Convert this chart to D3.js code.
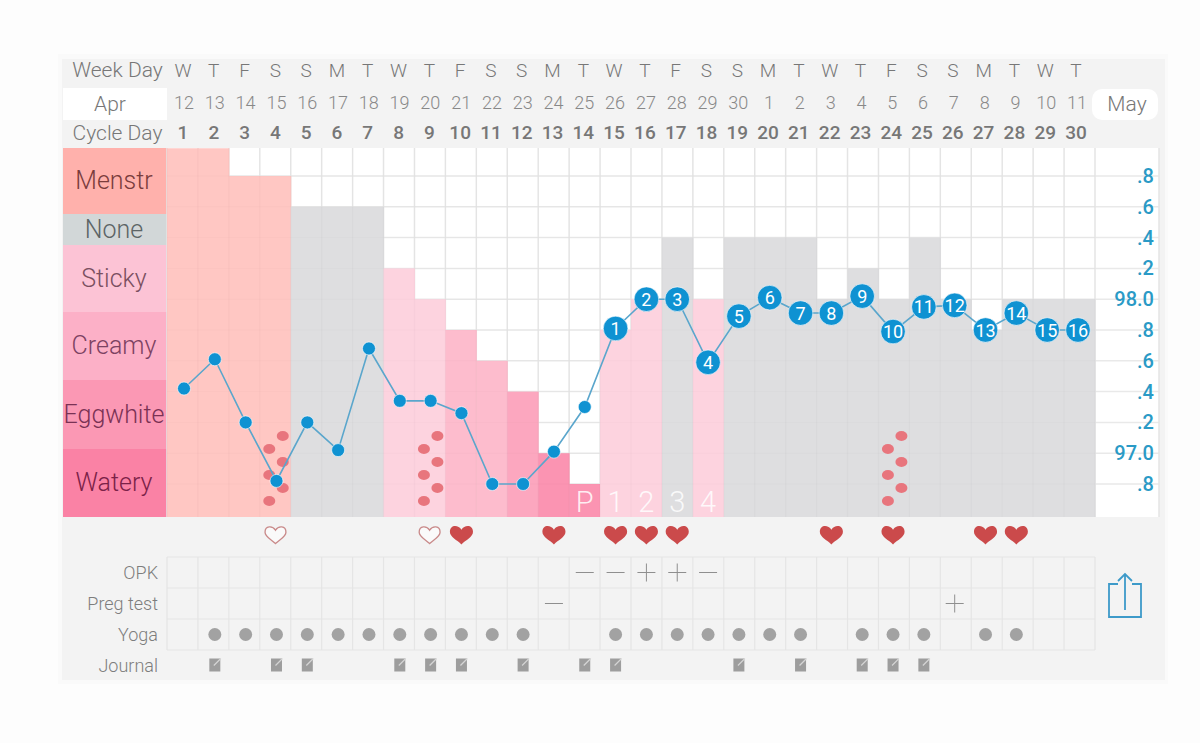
<!DOCTYPE html>
<html>
<head>
<meta charset="utf-8">
<title>Cycle chart</title>
<script src="https://cdn.jsdelivr.net/npm/d3@7"></script>
<style>
  html, body { margin: 0; padding: 0; background: #fdfdfd; }
  text { font-family: Roboto, "Liberation Sans", Arial, sans-serif; font-weight: 300; }
</style>
</head>
<body>
<svg id="chart" width="1200" height="743"></svg>
<script>
// data
const weekDays = ['W','T','F','S','S','M','T','W','T','F','S','S','M','T','W','T','F','S','S','M','T','W','T','F','S','S','M','T','W','T'];
const dates = [12,13,14,15,16,17,18,19,20,21,22,23,24,25,26,27,28,29,30,1,2,3,4,5,6,7,8,9,10,11];
const cycleDays = d3.range(1, 31);

const temps = [97.42,97.61,97.2,96.82,97.2,97.02,97.68,97.34,97.34,97.26,96.8,96.8,97.01,97.3,97.81,98.0,98.0,97.59,97.89,98.01,97.91,97.91,98.02,97.79,97.95,97.96,97.8,97.91,97.8,97.8];
const firstNumberedDay = 15;

const fluidNames = ['Menstr','None','Sticky','Creamy','Eggwhite','Watery'];
const fluidBlockEdges = [148,214,245,312,380,449,517];
const fluidBlockColors = ['#ffb1ac','#d2d7d8','#fcc3d5','#fcb0c7','#fb98b4','#fa82a5'];
const fluidTextColors = ['#7a3c3c','#5c6466','#7a4f60','#7c4262','#7a3254','#7b2148'];
const fluidColors = {Menstr:'#ffc7c3',None:'#dedee0',Sticky:'#fdd3df',Creamy:'#fdbccd',Eggwhite:'#fca7bf',Watery:'#fb94b2'};
const dayFluid = ['Menstr','Menstr','Menstr','Menstr','None','None','None','Sticky','Sticky','Creamy','Creamy','Eggwhite','Watery','Watery','Sticky','Sticky','None','Sticky','None','None','None','None','None','None','None','None','None','None','None','None'];
// top of each day's bar, on the temperature grid
const dayFluidTop = [98.98,98.98,98.8,98.8,98.6,98.6,98.6,98.2,98.0,97.8,97.6,97.4,97.0,96.8,97.8,98.0,98.4,98.0,98.4,98.4,98.4,98.0,98.2,98.0,98.4,98.0,97.8,98.0,98.0,98.0];

const tempTicks = [98.8,98.6,98.4,98.2,98.0,97.8,97.6,97.4,97.2,97.0,96.8];
const tempTickLabels = ['.8','.6','.4','.2','98.0','.8','.6','.4','.2','97.0','.8'];

const spottingDays = [4,9,24];
const spotLevels = [1,2,3,4,5,6];
const periodDays = [14,15,16,17,18];
const periodLabels = ['P','1','2','3','4'];

const heartsHollow = [4,9];
const heartsFilled = [10,13,15,16,17,22,24,27,28];

const testRows = ['OPK','Preg test','Yoga','Journal'];
const opkMarks = [[14,'-'],[15,'-'],[16,'+'],[17,'+'],[18,'-']];
const pregMarks = [[13,'-'],[26,'+']];
const yogaDays = [2,3,4,5,6,7,8,9,10,11,12,15,16,17,18,19,20,21,23,24,25,27,28];
const journalDays = [2,4,5,8,9,10,12,14,15,19,21,23,24,25];

const svg = d3.select('#chart');

// scales
const xBand = d3.scaleBand().domain(cycleDays).range([167, 1095]);
const xHead = d3.scaleLinear().domain([1, 30]).range([183, 1076]);
const xPoint = d3.scaleLinear().domain([1, 30]).range([184, 1078]);
const y = d3.scaleLinear().domain([96.8, 98.8]).range([484, 176]);
const plotTop = 148, plotBottom = 517;
const yRow = d3.scaleBand().domain(testRows).range([557, 681]);

// panel
svg.append('rect').attr('x', 58).attr('y', 54).attr('width', 1110).attr('height', 630).attr('fill', '#fafafa');
svg.append('rect').attr('x', 62).attr('y', 59).attr('width', 1103).attr('height', 621).attr('fill', '#f3f3f3');
svg.append('rect').attr('x', 167).attr('y', plotTop).attr('width', 992).attr('height', plotBottom - plotTop).attr('fill', '#fff');
svg.append('rect').attr('x', 63).attr('y', 88).attr('width', 104).attr('height', 32).attr('fill', '#fff');
svg.append('rect').attr('x', 1092).attr('y', 89).attr('width', 66).attr('height', 31).attr('rx', 10).attr('fill', '#fff');

// header rows
const headLabel = (txt, yy, x) => svg.append('text').text(txt)
  .attr('x', x).attr('y', yy).attr('text-anchor', 'middle')
  .attr('font-size', 21).attr('fill', '#777');
headLabel('Week Day', 77, 117.5);
headLabel('Apr', 111, 110);
headLabel('Cycle Day', 140, 117.5);
headLabel('May', 111, 1127);

svg.append('g').selectAll('text').data(weekDays).join('text')
  .text(d => d)
  .attr('x', (d, i) => xHead(i + 1)).attr('y', 77)
  .attr('text-anchor', 'middle').attr('font-size', 19).attr('fill', '#777');
svg.append('g').selectAll('text').data(dates).join('text')
  .text(d => d)
  .attr('x', (d, i) => xHead(i + 1) + 1).attr('y', 109)
  .attr('text-anchor', 'middle').attr('font-size', 18).attr('fill', '#888');
svg.append('g').selectAll('text').data(cycleDays).join('text')
  .text(d => d)
  .attr('x', d => xHead(d)).attr('y', 139)
  .attr('text-anchor', 'middle').attr('font-size', 19)
  .style('font-weight', 500).attr('fill', '#777');

// fluid blocks on the left
svg.append('g').selectAll('rect').data(fluidNames).join('rect')
  .attr('x', 63).attr('width', 104)
  .attr('y', (d, i) => fluidBlockEdges[i])
  .attr('height', (d, i) => fluidBlockEdges[i + 1] - fluidBlockEdges[i])
  .attr('fill', (d, i) => fluidBlockColors[i]);
svg.append('g').selectAll('text').data(fluidNames).join('text')
  .text(d => d)
  .attr('x', 114)
  .attr('y', (d, i) => (fluidBlockEdges[i] + fluidBlockEdges[i + 1]) / 2 + 8)
  .attr('text-anchor', 'middle').attr('font-size', 25)
  .attr('fill', (d, i) => fluidTextColors[i]);

// grid lines under the bars
svg.append('g').selectAll('line').data(tempTicks).join('line')
  .attr('x1', 167).attr('x2', 1159)
  .attr('y1', d => y(d)).attr('y2', d => y(d))
  .attr('stroke', '#e9e9e9').attr('stroke-width', 1.5);
svg.append('g').selectAll('line').data(d3.range(0, 31)).join('line')
  .attr('x1', d => 167 + d * xBand.bandwidth()).attr('x2', d => 167 + d * xBand.bandwidth())
  .attr('y1', plotTop).attr('y2', plotBottom)
  .attr('stroke', '#e9e9e9').attr('stroke-width', 1.5);

// daily bars
svg.append('g').selectAll('rect').data(cycleDays).join('rect')
  .attr('x', d => xBand(d)).attr('width', xBand.bandwidth() + 0.5)
  .attr('y', (d, i) => y(dayFluidTop[i]))
  .attr('height', (d, i) => plotBottom - y(dayFluidTop[i]))
  .attr('fill', (d, i) => fluidColors[dayFluid[i]]);

// same grid, very faint, on top of the bars
svg.append('g').selectAll('line').data(tempTicks).join('line')
  .attr('x1', 167).attr('x2', 1095)
  .attr('y1', d => y(d)).attr('y2', d => y(d))
  .attr('stroke', '#000').attr('stroke-opacity', 0.012).attr('stroke-width', 1.5);
svg.append('g').selectAll('line').data(d3.range(0, 31)).join('line')
  .attr('x1', d => 167 + d * xBand.bandwidth()).attr('x2', d => 167 + d * xBand.bandwidth())
  .attr('y1', plotTop).attr('y2', plotBottom)
  .attr('stroke', '#000').attr('stroke-opacity', 0.018).attr('stroke-width', 1.5);
svg.append('line').attr('x1', 1159).attr('x2', 1159).attr('y1', plotTop).attr('y2', plotBottom)
  .attr('stroke', '#e4e4e4').attr('stroke-width', 1.5);

// P 1 2 3 4 on the bars
svg.append('g').selectAll('text').data(periodDays).join('text')
  .text((d, i) => periodLabels[i])
  .attr('x', d => xPoint(d)).attr('y', 512)
  .attr('text-anchor', 'middle').attr('font-size', 29)
  .attr('fill', '#fff').attr('fill-opacity', 0.85);

// spotting dots
spottingDays.forEach(day => {
  svg.append('g').selectAll('ellipse').data(spotLevels).join('ellipse')
    .attr('cx', d => xBand(day) + xBand.bandwidth() / 2 + (d % 2 ? 7.5 : -6))
    .attr('cy', d => 423 + d * 13)
    .attr('rx', 6).attr('ry', 5)
    .attr('fill', '#e8757d');
});

// temperature axis on the right
const tempAxis = d3.axisRight(y)
  .tickValues(tempTicks)
  .tickSize(0)
  .tickFormat((d, i) => tempTickLabels[i]);
const axisG = svg.append('g').attr('transform', 'translate(1154,0)').call(tempAxis);
axisG.select('.domain').remove();
axisG.selectAll('text')
  .attr('x', 0).attr('text-anchor', 'end')
  .attr('font-size', 20).attr('fill', '#2a9ac6')
  .style('font-family', 'Roboto').style('font-weight', 500);

// temperature line
const line = d3.line().x((d, i) => xPoint(i + 1)).y(d => y(d));
svg.append('path').datum(temps)
  .attr('d', line).attr('fill', 'none')
  .attr('stroke', '#5aa6cc').attr('stroke-width', 1.6);

const points = svg.append('g').selectAll('g').data(temps).join('g')
  .attr('transform', (d, i) => `translate(${xPoint(i + 1)},${y(d)})`);
points.append('circle')
  .attr('r', (d, i) => i + 1 >= firstNumberedDay ? 12.3 : 6.5)
  .attr('fill', '#0f92d2')
  .attr('stroke', '#fff').attr('stroke-opacity', 0.6).attr('stroke-width', 1);
points.append('text')
  .text((d, i) => i + 1 >= firstNumberedDay ? i + 2 - firstNumberedDay : '')
  .attr('text-anchor', 'middle').attr('y', 6.5)
  .attr('font-size', 18).style('font-weight', 400).attr('fill', '#fff');

// hearts
const heartPath = () => {
  const p = d3.path();
  p.moveTo(0, 9);
  p.bezierCurveTo(-4, 5, -11, 2, -11, -3);
  p.bezierCurveTo(-11, -10, -3, -10, 0, -5);
  p.bezierCurveTo(3, -10, 11, -10, 11, -3);
  p.bezierCurveTo(11, 2, 4, 5, 0, 9);
  p.closePath();
  return p.toString();
};
svg.append('g').selectAll('path').data(heartsFilled).join('path')
  .attr('d', heartPath())
  .attr('transform', d => `translate(${xPoint(d)},535) scale(1.05)`)
  .attr('fill', '#cb4a4b');
svg.append('g').selectAll('path').data(heartsHollow).join('path')
  .attr('d', heartPath())
  .attr('transform', d => `translate(${xPoint(d) - 1},535) scale(0.95)`)
  .attr('fill', '#fafafa').attr('stroke', '#c98a8a').attr('stroke-width', 1.4);

// lower table
const tableRows = testRows.slice(0, 3);
svg.append('g').selectAll('line').data([0, 1, 2, 3]).join('line')
  .attr('x1', 167).attr('x2', 1095)
  .attr('y1', d => 557 + d * yRow.bandwidth()).attr('y2', d => 557 + d * yRow.bandwidth())
  .attr('stroke', '#e5e5e5').attr('stroke-width', 1.2);
svg.append('g').selectAll('line').data(d3.range(0, 31)).join('line')
  .attr('x1', d => 167 + d * xBand.bandwidth()).attr('x2', d => 167 + d * xBand.bandwidth())
  .attr('y1', 557).attr('y2', 557 + tableRows.length * yRow.bandwidth())
  .attr('stroke', '#e5e5e5').attr('stroke-width', 1.2);
svg.append('g').selectAll('text').data(testRows).join('text')
  .text(d => d)
  .attr('x', 158).attr('y', d => yRow(d) + yRow.bandwidth() / 2 + 6)
  .attr('text-anchor', 'end').attr('font-size', 18).attr('fill', '#7d7d7d');

const drawMarks = (marks, row) => {
  const cy = yRow(row) + yRow.bandwidth() / 2;
  const g = svg.append('g').attr('stroke', '#8f8f8f').attr('stroke-width', 1);
  g.selectAll('.h').data(marks).join('line').attr('class', 'h')
    .attr('x1', d => xPoint(d[0]) - 9).attr('x2', d => xPoint(d[0]) + 9)
    .attr('y1', cy).attr('y2', cy);
  g.selectAll('.v').data(marks.filter(d => d[1] === '+')).join('line').attr('class', 'v')
    .attr('x1', d => xPoint(d[0])).attr('x2', d => xPoint(d[0]))
    .attr('y1', cy - 9).attr('y2', cy + 9);
};
drawMarks(opkMarks, 'OPK');
drawMarks(pregMarks, 'Preg test');

svg.append('g').selectAll('circle').data(yogaDays).join('circle')
  .attr('cx', d => xPoint(d)).attr('cy', yRow('Yoga') + yRow.bandwidth() / 2)
  .attr('r', 6.5).attr('fill', '#a2a2a2');

const journal = svg.append('g').selectAll('g').data(journalDays).join('g')
  .attr('transform', d => `translate(${xPoint(d)},${yRow('Journal') + yRow.bandwidth() / 2 - 1})`);
journal.append('rect').attr('x', -5.5).attr('y', -6).attr('width', 11).attr('height', 13).attr('fill', '#9d9d9d');
journal.append('line').attr('x1', -1).attr('y1', 1).attr('x2', 6).attr('y2', -6)
  .attr('stroke', '#d5d5d5').attr('stroke-width', 1.2);

// share icon
const share = svg.append('g').attr('fill', 'none').attr('stroke', '#3d9ac9').attr('stroke-width', 1.8);
share.append('path').attr('d', 'M1118 584H1109V617H1141V584H1132');
share.append('path').attr('d', 'M1125 610V574M1118 581L1125 574L1132 581');
</script>
</body>
</html>
